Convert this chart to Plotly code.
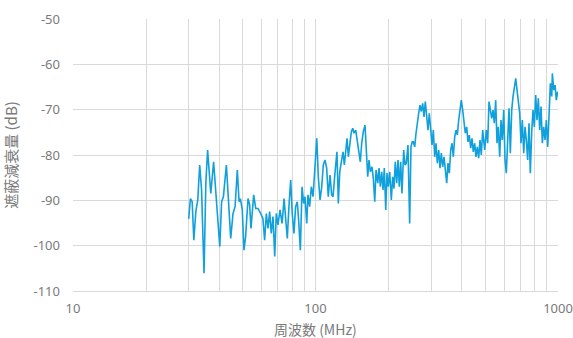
import plotly.graph_objects as go

# Shielding attenuation measurement, 30 MHz - 1 GHz
freq_mhz = [
    30.0, 30.5, 31.0, 31.5, 32.1, 32.7, 33.3, 33.9, 34.7, 35.3, 35.9, 36.4, 37.0, 38.0, 39.0,
    39.6, 40.3, 41.0, 41.7, 42.9, 43.7, 44.7, 45.7, 46.6, 47.6, 48.4, 49.0, 49.9, 50.7, 51.5,
    52.7, 53.5, 54.2, 55.6, 56.7,
    57.9, 59.4, 60.7, 61.7, 62.7, 63.7, 64.7, 65.7, 66.8, 67.9, 68.9, 70.0, 71.4, 72.8, 74.2,
    75.4, 76.5, 77.7, 79.0, 80.2, 81.5, 82.8, 84.1, 85.2, 86.6, 88.0, 89.4, 90.5, 92.0, 93.1,
    94.6, 96.1, 97.7, 99.2, 101.2, 102.7, 104.4, 106.1, 107.7, 109.4, 111.2, 112.9, 114.8, 116.6,
    118.1, 120.3, 122.6, 124.2, 125.9, 127.8, 129.9, 131.5, 133.2, 134.9, 136.6, 138.4, 140.5,
    142.4, 144.2, 146.5, 148.8, 151.2, 153.0, 155.1, 157.4, 160.0, 162.0, 164.2, 166.2, 168.3,
    171.0, 173.2, 175.5, 177.7, 180.6, 182.8, 185.1, 187.5, 189.9, 192.2, 194.8, 197.2, 199.6,
    202.3, 205.4, 208.1, 210.7, 213.3, 216.2, 218.9, 221.6, 224.5, 227.3, 231.0, 233.9, 236.8,
    240.6, 244.5, 247.6, 250.6,
    253.1, 256.5, 259.7, 262.9, 266.4, 269.7, 273.1, 276.7, 280.2, 283.7, 287.5, 291.0, 294.7,
    298.6, 302.3, 306.1, 310.2, 314.0, 317.9, 322.2, 326.1, 330.2, 334.6, 338.8, 343.0, 347.6,
    351.9, 356.3, 361.0, 365.5, 370.1, 375.0, 379.7, 384.4, 389.5, 394.4, 399.3, 404.6, 409.6,
    414.7, 420.3, 425.5, 430.8, 436.5, 442.0, 447.4, 453.4, 459.0, 464.7, 470.9, 476.8, 482.7,
    489.2,
    498.6, 506.2, 513.0, 519.4, 525.8, 532.9, 539.5, 546.2, 553.5, 560.4, 567.3, 574.9, 582.1,
    589.3, 597.2, 604.7, 612.1, 620.4, 628.1, 635.9, 644.4, 652.4, 660.6, 669.4, 677.8, 686.1,
    695.3, 703.8, 712.6, 722.2, 731.1, 740.2, 749.9, 759.4, 768.9, 779.1, 788.9, 798.7, 809.3,
    819.4, 829.6, 840.6, 851.1, 861.8, 873.2, 884.2, 895.2, 907.2, 918.5, 930.0, 942.3, 947.7,
    960.4, 972.3, 984.2, 997.2,
]

attenuation_db = [
    -94.1, -89.6, -90.3, -98.8, -92.5, -89.9, -82.2, -87.7, -106.1, -86.2, -78.9, -82.6, -88.5, -81.5, -90.3,
    -94.0, -100.2, -90.3, -89.2, -82.2, -90.3, -98.4, -92.9, -91.4, -83.3, -90.3, -89.6, -92.1, -101.0, -98.0,
    -89.6, -91.0, -96.2, -88.8, -91.8,
    -91.8, -92.9, -94.0, -98.8, -92.9, -96.2, -92.5, -97.3, -93.6, -102.4, -92.9, -95.4, -92.1, -95.1, -89.6,
    -94.3, -98.4, -91.4, -85.5, -92.9, -97.3, -91.4, -90.3, -94.3, -101.0, -87.0, -90.7, -89.2, -95.1, -88.8,
    -91.4, -87.0, -89.2, -83.7, -76.3, -84.8, -89.9, -87.0, -82.2, -81.1, -82.9, -89.2, -84.4, -88.8,
    -89.2, -84.0, -79.3, -90.7, -83.7, -81.5, -79.3, -82.2, -78.5, -76.3, -80.4, -77.8, -74.9,
    -74.1, -75.2, -74.5, -77.1, -79.3, -81.5, -77.4, -74.9, -73.4, -78.2, -84.8, -81.1, -83.7,
    -82.6, -85.2, -90.3, -83.3, -86.2, -82.9, -87.0, -83.7, -87.7, -82.9, -92.1, -84.0, -87.0,
    -83.7, -89.9, -84.8, -87.4, -81.5, -86.2, -81.1, -87.0, -81.5, -88.5, -78.9, -82.2, -81.8,
    -77.8, -95.1, -78.2, -77.1,
    -77.1, -78.2, -75.2, -72.7, -70.8, -69.0, -70.4, -68.6, -71.6, -68.2, -71.9, -74.5, -70.8,
    -75.2, -77.8, -74.5, -80.4, -77.4, -81.8, -78.9, -82.9, -79.6, -82.6, -80.4, -84.0, -86.2,
    -81.8, -84.0, -78.9, -77.4, -80.4, -76.0, -74.5, -75.6, -72.3, -70.1, -67.9, -70.1, -73.0,
    -75.2, -73.8, -77.1, -75.6, -78.5, -76.3, -79.3, -77.4, -80.4, -78.2, -80.7, -76.7, -80.0,
    -74.5,
    -78.9, -74.5, -77.4, -68.2, -70.1, -71.9, -70.1, -73.0, -67.9, -77.4, -73.8, -80.4, -72.3,
    -76.7, -70.1, -81.1, -84.0, -76.0, -69.7, -79.6, -70.1, -67.1, -64.9, -63.1, -65.7, -68.6,
    -70.8, -77.4, -72.3, -79.6, -73.8, -76.7, -81.1, -73.0, -84.0, -74.9, -70.1, -73.8, -66.8,
    -72.3, -67.5, -74.5, -69.3, -77.4, -73.8, -76.7, -72.3, -78.2, -69.3, -64.2, -67.1, -62.0,
    -65.7, -64.6, -67.9, -66.0,
]

x_ticks = [10, 100, 1000]
x_minor = [20, 30, 40, 50, 60, 70, 80, 90, 200, 300, 400, 500, 600, 700, 800, 900]
y_ticks = [-110, -100, -90, -80, -70, -60, -50]

grid = "#d9d9d9"
text_col = "#7a7a7a"
font_family = "Noto Sans, Liberation Sans, sans-serif"
cjk_family = "Noto Sans CJK JP, Noto Sans, sans-serif"

fig = go.Figure(
    go.Scatter(
        x=freq_mhz,
        y=attenuation_db,
        mode="lines",
        line=dict(color="#10a0dc", width=1.6),
        hoverinfo="x+y",
    )
)

fig.update_layout(
    width=573,
    height=338,
    margin=dict(l=73, r=15, t=19, b=47),
    paper_bgcolor="white",
    plot_bgcolor="white",
    showlegend=False,
    font=dict(family=font_family, size=13, color=text_col),
    annotations=[
        # x-axis title, set low under the tick labels
        dict(
            text="周波数 (MHz)",
            xref="paper", yref="paper",
            x=0.5, y=-0.14,
            xanchor="center", yanchor="middle",
            borderpad=0,
            showarrow=False,
            font=dict(family=cjk_family, size=14, color=text_col),
        ),
    ],
)

fig.update_xaxes(
    type="log",
    range=[1, 3],
    automargin=False,
    tickmode="array",
    tickvals=x_ticks,
    ticktext=[str(v) for v in x_ticks],
    showgrid=True,
    gridcolor=grid,
    gridwidth=1,
    minor=dict(tickmode="array", tickvals=x_minor, showgrid=True, gridcolor=grid, gridwidth=1),
    showline=True,
    linecolor=grid,
    linewidth=1,
    zeroline=False,
    ticks="",
    ticklabelstandoff=5,
    tickfont=dict(size=13, color=text_col),
)

fig.update_yaxes(
    range=[-110, -50],
    automargin=False,
    tickmode="array",
    tickvals=y_ticks,
    ticktext=[str(v) for v in y_ticks],
    showgrid=True,
    gridcolor=grid,
    gridwidth=1,
    zeroline=False,
    showline=False,
    ticks="",
    ticklabelstandoff=12,
    tickfont=dict(size=13, color=text_col),
    title=dict(text="遮蔽減衰量 (dB)", font=dict(family=cjk_family, size=15, color=text_col)),
)

fig.write_html("out.html")
